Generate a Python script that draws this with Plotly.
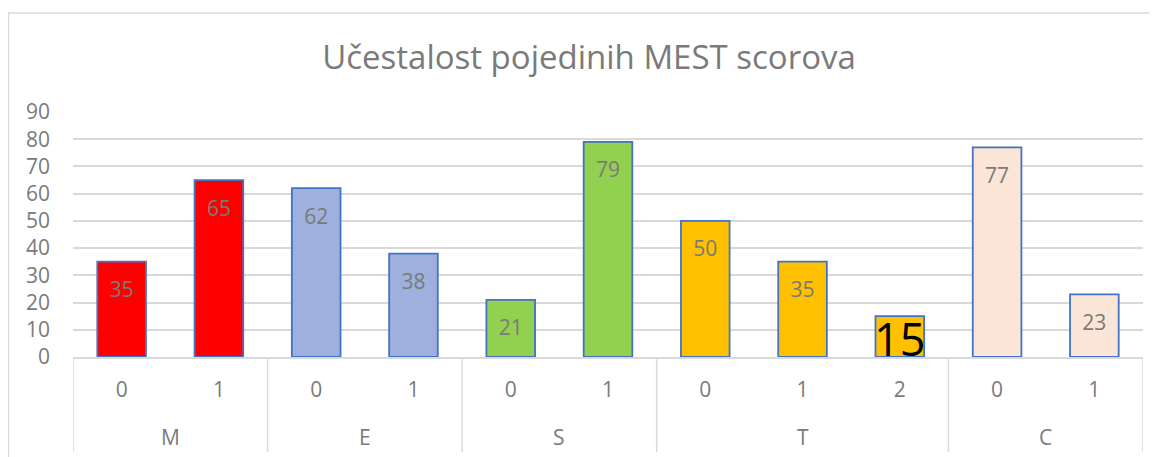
import plotly.graph_objects as go

# ---- data ----
groups = ["M", "E", "S", "T", "C"]
sub_labels = [["0", "1"], ["0", "1"], ["0", "1"], ["0", "1", "2"], ["0", "1"]]
values = [[35, 65], [62, 38], [21, 79], [50, 35, 15], [77, 23]]
group_colors = ["#FF0000", "#9DB0DE", "#92D050", "#FFC000", "#FBE5D6"]
y_ticks = [0, 10, 20, 30, 40, 50, 60, 70, 80, 90]
title_text = "Učestalost pojedinih MEST scorova"

# ---- styling ----
W, H = 1157, 457
OFF = 8  # page body margin: figure pixel = page pixel - OFF
def fx(p):
    return p - OFF
PL, PR, PT, PB = fx(73), fx(1143), fx(112), fx(357)  # plot area in figure pixels
FONT = "Open Sans, Noto Sans, sans-serif"
GRAY = "#7a7a7a"
GRID = "#d9d9d9"
LABEL_SIZE = 21
BIG_LABEL_SIZE = 45  # the oversized "15" label
OUTLINE = "#4472C4"

# flatten
xs, ys, ticktext, colors, lab_sizes, lab_colors = [], [], [], [], [], []
group_centers, boundaries = [], [-0.5]
pos = 0
for g, subs, vals, col in zip(groups, sub_labels, values, group_colors):
    start = pos
    for s, v in zip(subs, vals):
        xs.append(pos)
        ys.append(v)
        ticktext.append(s)
        colors.append(col)
        pos += 1
    group_centers.append((start + pos - 1) / 2)
    boundaries.append(pos - 0.5)

for g, vals in zip(groups, values):
    for i, v in enumerate(vals):
        big = (g == "T" and i == 2)
        lab_sizes.append(BIG_LABEL_SIZE if big else LABEL_SIZE)
        lab_colors.append("black" if big else GRAY)

# offset of label below bar top via invisible marker radius (plotly text offset)
def marker_size_for(fs, top_gap):
    r = top_gap - 0.036 * fs
    mrc = max((r - 1) * 0.8, 0.5)
    return 2 * mrc

offs = [marker_size_for(fs, 8 if fs == BIG_LABEL_SIZE else 20.5) for fs in lab_sizes]

fig = go.Figure()
fig.add_trace(go.Bar(
    x=xs, y=ys, width=0.5,
    marker=dict(color=colors, line=dict(color=OUTLINE, width=1.8)),
    hoverinfo="skip", showlegend=False,
))
fig.add_trace(go.Scatter(
    x=xs, y=ys, mode="markers+text", text=[str(v) for v in ys],
    textposition="bottom center",
    textfont=dict(family=FONT, size=lab_sizes, color=lab_colors),
    marker=dict(size=offs, opacity=0),
    cliponaxis=True, hoverinfo="skip", showlegend=False,
))

pw, ph = PR - PL, PB - PT
def px_to_paper_x(px):
    return (fx(px) - PL) / pw
def px_to_paper_y(py):
    return (PB - fx(py)) / ph

shapes = []
# chart border
shapes.append(dict(type="rect", xref="paper", yref="paper",
                   x0=px_to_paper_x(8.5), x1=px_to_paper_x(1200),
                   y0=px_to_paper_y(520), y1=px_to_paper_y(13),
                   line=dict(color=GRID, width=1.5), layer="below"))
# group dividers
for b in boundaries:
    shapes.append(dict(type="line", xref="x", yref="paper", x0=b, x1=b,
                       y0=0, y1=px_to_paper_y(452),
                       line=dict(color=GRID, width=1.5)))

annotations = []
for g, c in zip(groups, group_centers):
    annotations.append(dict(x=c, xref="x", y=px_to_paper_y(437), yref="paper",
                            text=g, showarrow=False, yanchor="middle",
                            font=dict(family=FONT, size=LABEL_SIZE, color=GRAY)))

fig.update_layout(
    width=W, height=H,
    margin=dict(l=PL, r=W - PR, t=PT, b=H - PB, pad=0),
    paper_bgcolor="white", plot_bgcolor="white",
    title=dict(text=title_text, x=px_to_paper_x(589), xref="paper", xanchor="center",
               y=1 - fx(57) / H, yref="container", yanchor="middle",
               font=dict(family=FONT, size=33, color=GRAY)),
    xaxis=dict(range=[-0.5, len(xs) - 0.5], tickvals=xs, ticktext=ticktext,
               showgrid=False, zeroline=False, showline=True, linecolor=GRID, linewidth=1.5,
               ticks="", ticklabelstandoff=13,
               tickfont=dict(family=FONT, size=LABEL_SIZE, color=GRAY), fixedrange=True),
    yaxis=dict(range=[0, 90], tickvals=y_ticks, showgrid=True, gridcolor=GRID, gridwidth=1.5,
               zeroline=False, showline=False, ticks="", ticklabelstandoff=22,
               tickfont=dict(family=FONT, size=LABEL_SIZE, color=GRAY), fixedrange=True),
    shapes=shapes, annotations=annotations, bargap=0.5,
)

fig.write_html("out.html")
